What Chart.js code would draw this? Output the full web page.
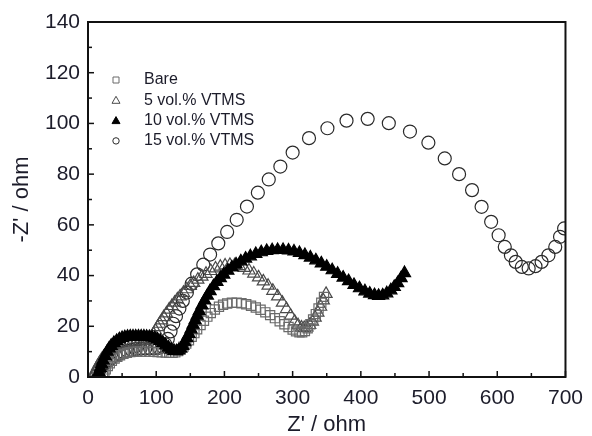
<!DOCTYPE html>
<html>
<head>
<meta charset="utf-8">
<script src="https://cdn.jsdelivr.net/npm/chart.js@4.4.1/dist/chart.umd.min.js"></script>
<style>
  html, body { margin: 0; padding: 0; background: #fff; }
</style>
</head>
<body>
<canvas id="c" width="592" height="436"></canvas>
<script>
const seriesLabels = ["Bare", "5 vol.% VTMS", "10 vol.% VTMS", "15 vol.% VTMS"];

const bareX = [22, 24, 26, 29, 32, 35, 39, 43, 47, 52, 57, 62, 67, 72, 78, 84, 90, 96, 102, 108, 114, 119, 124, 128, 132, 136, 140, 144, 148, 152, 156, 160, 165, 170, 175, 180, 186, 192, 198, 204, 211, 218, 225, 232, 239, 246, 253, 260, 267, 274, 281, 288, 294, 300, 305, 310, 314, 318, 322, 326, 330, 334, 338, 342, 346];
const bareY = [0.5, 1.8, 3, 4.3, 5.4, 6.4, 7.3, 8, 8.6, 9.1, 9.5, 9.8, 10, 10, 10, 10, 10, 9.9, 9.8, 9.7, 9.6, 9.5, 9.5, 9.7, 10.2, 11, 12, 13.2, 14.5, 15.9, 17.3, 18.8, 20.5, 22.2, 23.8, 25.2, 26.6, 27.7, 28.5, 29, 29.3, 29.3, 29.1, 28.7, 28.1, 27.4, 26.5, 25.5, 24.4, 23.2, 22, 20.8, 19.7, 18.7, 18, 17.6, 17.6, 18.1, 19.2, 20.8, 22.7, 24.8, 27, 29.3, 31.6];

const vol5X = [8, 10, 12, 14, 17, 20, 23, 27, 31, 35, 40, 45, 50, 55, 60, 65, 70, 75, 80, 85, 89, 93, 96, 99, 102, 105, 108, 111, 115, 119, 123, 127, 131, 135, 140, 145, 150, 155, 161, 167, 173, 180, 187, 194, 201, 208, 215, 222, 229, 236, 243, 250, 257, 264, 271, 278, 285, 291, 297, 303, 308, 313, 317, 321, 325, 329, 333, 337, 341, 345, 349];
const vol5Y = [0.5, 1.8, 3, 4.2, 5.6, 6.9, 8, 9.2, 10.1, 10.9, 11.7, 12.3, 12.8, 13.2, 13.5, 13.7, 13.9, 14, 14.1, 14.3, 14.8, 15.8, 17, 18.3, 19.7, 21, 22.3, 23.6, 25.1, 26.6, 28, 29.3, 30.6, 31.8, 33.2, 34.6, 35.9, 37.1, 38.4, 39.6, 40.7, 41.8, 42.8, 43.5, 44, 44.2, 44.1, 43.7, 43, 42, 40.8, 39.3, 37.7, 36, 34, 31.8, 29.3, 26.8, 24.2, 21.9, 20.4, 19.5, 19.3, 19.6, 20.5, 21.8, 23.4, 25.4, 27.7, 30.2, 32.8];

const vol10X = [14, 16, 18, 20, 22, 25, 28, 31, 34, 38, 42, 46, 50, 54, 58, 62, 66, 70, 74, 78, 82, 86, 90, 94, 98, 102, 106, 110, 114, 118, 122, 126, 130, 133, 136, 139, 142, 145, 148, 151, 154, 157, 160, 163, 167, 171, 175, 179, 184, 189, 194, 199, 205, 211, 217, 224, 231, 238, 246, 254, 262, 270, 278, 286, 294, 302, 310, 318, 326, 334, 342, 350, 358, 366, 374, 382, 390, 398, 406, 413, 420, 426, 432, 438, 444, 449, 454, 459, 464];
const vol10Y = [0.5, 2, 3.5, 5, 6.5, 8.3, 10, 11.3, 12.3, 13.4, 14.2, 14.9, 15.4, 15.7, 15.9, 16, 16, 16, 16, 16, 16, 15.9, 15.8, 15.6, 15.3, 14.8, 14.2, 13.4, 12.5, 11.6, 10.8, 10.3, 10.2, 10.5, 11.2, 12.3, 13.7, 15.3, 17, 18.8, 20.6, 22.4, 24.2, 26, 28.2, 30.2, 32.1, 33.9, 35.8, 37.5, 39, 40.4, 41.9, 43.2, 44.4, 45.6, 46.7, 47.6, 48.5, 49.2, 49.7, 50, 50.1, 50.1, 49.9, 49.5, 48.9, 48.1, 47.1, 46, 44.8, 43.5, 42.1, 40.7, 39.2, 37.8, 36.3, 35, 33.8, 32.9, 32.3, 32, 32.2, 33, 34.2, 35.5, 37, 39, 41];

const vol15X = [12, 15, 18, 22, 26, 30, 35, 40, 46, 52, 58, 64, 70, 77, 84, 91, 98, 104, 109, 113, 117, 121, 125, 129, 134, 139, 145, 152, 160, 169, 179, 191, 204, 218, 233, 249, 265, 282, 300, 324, 351, 379, 410, 441, 472, 499, 523, 544, 563, 577, 591, 602, 611, 620, 627, 636, 646, 656, 665, 675, 685, 692, 698];
const vol15Y = [0.5, 2, 3.3, 4.6, 5.7, 6.6, 7.6, 8.4, 9.2, 9.8, 10.3, 10.7, 11, 11.2, 11.3, 11.3, 11.3, 11.5, 12, 13, 15, 18, 21, 24, 27, 30, 33.3, 36.8, 40.5, 44.3, 48.3, 52.7, 57.2, 62, 67.2, 72.7, 77.9, 83, 88.5, 94.2, 98.1, 101.1, 101.8, 100.1, 96.8, 92.4, 86.2, 80, 73.7, 67.1, 61.2, 55.9, 51.3, 48, 45.4, 43.4, 42.8, 43.7, 45.4, 48, 51.3, 55.3, 58.6];

const xTicks = [0, 50, 100, 150, 200, 250, 300, 350, 400, 450, 500, 550, 600, 650, 700];
const yTicks = [0, 10, 20, 30, 40, 50, 60, 70, 80, 90, 100, 110, 120, 130, 140];

const pts = (xs, ys) => xs.map((x, i) => ({ x, y: ys[i] }));

const textColor = "#1c1c2a";
const fontFamily = "'Liberation Sans', Arial, sans-serif";

const styles = [
  { pointStyle: "rect", radius: 6.5, border: "#6a6a6a", fill: "transparent" },
  { pointStyle: "triangle", radius: 7, border: "#4a4a4a", fill: "transparent" },
  { pointStyle: "triangle", radius: 7, border: "#000", fill: "#000" },
  { pointStyle: "circle", radius: 6.5, border: "#2a2a2a", fill: "transparent" },
];

const frameAndLegend = {
  id: "frameAndLegend",
  afterDraw(chart) {
    const { ctx, chartArea: a, scales } = chart;
    const x = scales.x, y = scales.y;
    ctx.save();
    ctx.strokeStyle = "#111";
    ctx.lineWidth = 1.5;
    x.ticks.forEach((t) => {
      const px = x.getPixelForValue(t.value);
      const len = t.value % 100 === 0 ? 6 : 4;
      ctx.beginPath();
      ctx.moveTo(px, a.bottom);
      ctx.lineTo(px, a.bottom - len);
      ctx.stroke();
    });
    y.ticks.forEach((t) => {
      const py = y.getPixelForValue(t.value);
      const len = t.value % 20 === 0 ? 6 : 4;
      ctx.beginPath();
      ctx.moveTo(a.left, py);
      ctx.lineTo(a.left + len, py);
      ctx.stroke();
    });
    ctx.lineWidth = 2;
    ctx.strokeRect(a.left, a.top, a.right - a.left, a.bottom - a.top);

    // legend, top-left inside the plot
    const legendTop = 80, rowGap = 20.3, symX = 116, textX = 144;
    ctx.font = "16px " + fontFamily;
    ctx.textBaseline = "middle";
    ctx.textAlign = "left";
    chart.data.datasets.forEach((ds, i) => {
      const cy = legendTop + i * rowGap;
      const st = styles[i];
      ctx.lineWidth = 1;
      ctx.strokeStyle = st.border;
      ctx.fillStyle = st.fill;
      ctx.beginPath();
      if (st.pointStyle === "rect") {
        ctx.rect(symX - 3, cy - 3, 6, 6);
      } else if (st.pointStyle === "triangle") {
        ctx.moveTo(symX, cy - 4);
        ctx.lineTo(symX + 4, cy + 3);
        ctx.lineTo(symX - 4, cy + 3);
        ctx.closePath();
      } else {
        ctx.arc(symX, cy, 3.2, 0, Math.PI * 2);
      }
      if (st.fill !== "transparent") ctx.fill();
      ctx.stroke();
      ctx.fillStyle = textColor;
      ctx.fillText(ds.label, textX, cy);
    });
    ctx.restore();
  },
};

const datasets = [
  [bareX, bareY],
  [vol5X, vol5Y],
  [vol10X, vol10Y],
  [vol15X, vol15Y],
].map(([xs, ys], i) => ({
  label: seriesLabels[i],
  data: pts(xs, ys),
  pointStyle: styles[i].pointStyle,
  pointRadius: styles[i].radius,
  pointHoverRadius: styles[i].radius,
  pointBorderColor: styles[i].border,
  pointBackgroundColor: styles[i].fill,
  pointBorderWidth: 1.2,
  showLine: false,
  order: i === 2 ? 0 : 1,
}));

new Chart(document.getElementById("c").getContext("2d"), {
  type: "scatter",
  data: { datasets },
  options: {
    responsive: false,
    animation: false,
    events: [],
    layout: { padding: { top: 22, right: 21, left: 0, bottom: 0 } },
    plugins: { legend: { display: false }, tooltip: { enabled: false } },
    scales: {
      x: {
        type: "linear",
        min: 0,
        max: 700,
        grid: { display: false, drawTicks: false },
        border: { display: false },
        afterBuildTicks: (s) => { s.ticks = xTicks.map((v) => ({ value: v })); },
        afterFit: (s) => { s.height = 59; },
        ticks: {
          autoSkip: false,
          maxRotation: 0,
          padding: 9,
          color: textColor,
          font: { family: fontFamily, size: 21 },
          callback: (v) => (v % 100 === 0 ? String(v) : ""),
        },
        title: {
          display: true,
          text: "Z' / ohm",
          color: textColor,
          font: { family: fontFamily, size: 22, lineHeight: 1 },
          padding: { top: 0, bottom: 0 },
        },
      },
      y: {
        type: "linear",
        min: 0,
        max: 140,
        grid: { display: false, drawTicks: false },
        border: { display: false },
        afterBuildTicks: (s) => { s.ticks = yTicks.map((v) => ({ value: v })); },
        afterFit: (s) => { s.width = 88; },
        ticks: {
          autoSkip: false,
          padding: 8,
          color: textColor,
          font: { family: fontFamily, size: 21 },
          callback: (v) => (v % 20 === 0 ? String(v) : ""),
        },
        title: {
          display: true,
          text: "-Z' / ohm",
          color: textColor,
          font: { family: fontFamily, size: 22, lineHeight: 1 },
          padding: { top: 11, bottom: 0 },
        },
      },
    },
  },
  plugins: [frameAndLegend],
});
</script>
</body>
</html>
